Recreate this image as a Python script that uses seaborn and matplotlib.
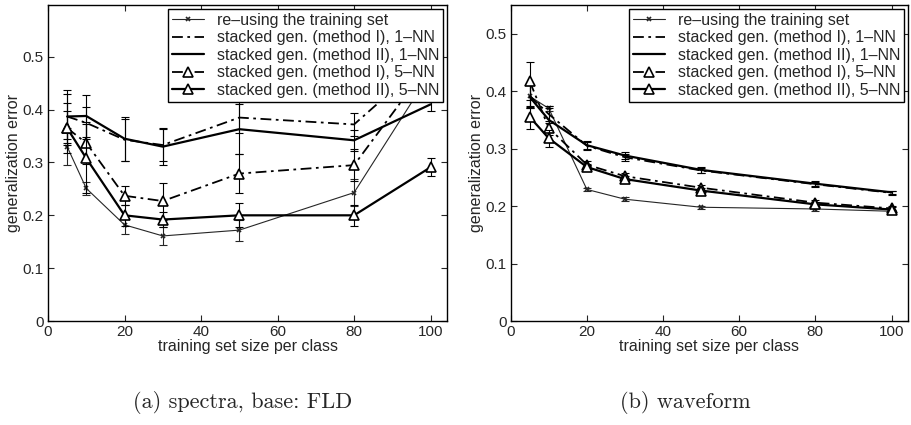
import numpy as np
import pandas as pd
import matplotlib
import matplotlib.pyplot as plt
import seaborn as sns
from matplotlib import font_manager

matplotlib.use('Agg')

# training set sizes
sizes = [5, 10, 20, 30, 50, 80, 100]

labels = [
    're–using the training set',
    'stacked gen. (method I), 1–NN',
    'stacked gen. (method II), 1–NN',
    'stacked gen. (method I), 5–NN',
    'stacked gen. (method II), 5–NN',
]

# (a) spectra, base: FLD
spec_reuse = [0.330, 0.251, 0.182, 0.161, 0.172, 0.243, 0.470]
spec_m1_1nn = [0.387, 0.375, 0.343, 0.333, 0.385, 0.372, 0.500]
spec_m2_1nn = [0.387, 0.388, 0.345, 0.330, 0.363, 0.342, 0.410]
spec_m1_5nn = [0.365, 0.337, 0.237, 0.227, 0.279, 0.295, 0.490]
spec_m2_5nn = [0.365, 0.308, 0.200, 0.192, 0.200, 0.200, 0.291]

spec_reuse_err = [0.035, 0.012, 0.017, 0.017, 0.020, 0.025, 0.020]
spec_m1_1nn_err = [0.043, 0.030, 0.040, 0.030, 0.030, 0.022, 0.020]
spec_m2_1nn_err = [0.050, 0.040, 0.042, 0.035, 0.047, 0.020, 0.012]
spec_m1_5nn_err = [0.048, 0.040, 0.018, 0.035, 0.037, 0.030, 0.020]
spec_m2_5nn_err = [0.032, 0.065, 0.020, 0.015, 0.023, 0.020, 0.017]

# (b) waveform
wave_reuse = [0.391, 0.370, 0.229, 0.212, 0.198, 0.195, 0.191]
wave_m1_1nn = [0.392, 0.360, 0.305, 0.285, 0.262, 0.238, 0.223]
wave_m2_1nn = [0.390, 0.350, 0.306, 0.288, 0.263, 0.239, 0.224]
wave_m1_5nn = [0.417, 0.336, 0.272, 0.252, 0.232, 0.206, 0.196]
wave_m2_5nn = [0.355, 0.318, 0.268, 0.247, 0.227, 0.203, 0.194]

wave_reuse_err = [0.020, 0.004, 0.003, 0.003, 0.003, 0.003, 0.003]
wave_m1_1nn_err = [0.020, 0.015, 0.006, 0.006, 0.005, 0.004, 0.003]
wave_m2_1nn_err = [0.020, 0.020, 0.008, 0.006, 0.005, 0.004, 0.003]
wave_m1_5nn_err = [0.033, 0.012, 0.006, 0.006, 0.005, 0.004, 0.004]
wave_m2_5nn_err = [0.020, 0.015, 0.006, 0.006, 0.005, 0.004, 0.004]

panels = [
    dict(values=[spec_reuse, spec_m1_1nn, spec_m2_1nn, spec_m1_5nn, spec_m2_5nn],
         errors=[spec_reuse_err, spec_m1_1nn_err, spec_m2_1nn_err, spec_m1_5nn_err, spec_m2_5nn_err],
         ylim=0.598, caption='(a) spectra, base: FLD', cap_x=0.266),
    dict(values=[wave_reuse, wave_m1_1nn, wave_m2_1nn, wave_m1_5nn, wave_m2_5nn],
         errors=[wave_reuse_err, wave_m1_1nn_err, wave_m2_1nn_err, wave_m1_5nn_err, wave_m2_5nn_err],
         ylim=0.55, caption='(b) waveform', cap_x=0.752),
]

# line styles per series
dashdot = (0, (6, 2.5, 1.5, 2.5))
styles = [
    dict(linestyle='-', linewidth=0.8, marker='x', markersize=3, color='0.15'),
    dict(linestyle=dashdot, linewidth=1.3, marker=None, color='k'),
    dict(linestyle='-', linewidth=1.6, marker=None, color='k'),
    dict(linestyle=dashdot, linewidth=1.3, marker='^', markersize=7, color='k'),
    dict(linestyle='-', linewidth=1.6, marker='^', markersize=7, color='k'),
]

sns.set_style('ticks')
names = {f.name for f in font_manager.fontManager.ttflist}
sans = 'Liberation Sans Narrow' if 'Liberation Sans Narrow' in names else 'Liberation Sans'
plt.rcParams['font.family'] = [sans, 'DejaVu Sans']

fig = plt.figure(figsize=(9.11, 4.25), dpi=100)
positions = [[0.0527, 0.2447, 0.438, 0.7435], [0.5606, 0.2447, 0.436, 0.7435]]

for pos, panel in zip(positions, panels):
    ax = fig.add_axes(pos)
    for lab, vals, errs, st in zip(labels, panel['values'], panel['errors'], styles):
        df = pd.DataFrame({'size': sizes, 'error': vals})
        ax.errorbar(df['size'], df['error'], yerr=errs, fmt='none',
                    ecolor=st['color'], elinewidth=0.8, capsize=3, capthick=0.8)
        sns.lineplot(data=df, x='size', y='error', ax=ax, label=lab,
                     color=st['color'], linestyle=st['linestyle'], linewidth=st['linewidth'],
                     marker=st['marker'], markersize=st.get('markersize', 0),
                     markerfacecolor='white', markeredgecolor=st['color'],
                     markeredgewidth=1.2, estimator=None, sort=False)
    ax.set_xlim(0, 104.3)
    ax.set_ylim(0, panel['ylim'])
    ax.set_xticks([0, 20, 40, 60, 80, 100])
    ax.set_yticks([0, 0.1, 0.2, 0.3, 0.4, 0.5])
    ax.set_yticklabels(['0', '0.1', '0.2', '0.3', '0.4', '0.5'])
    ax.tick_params(direction='in', top=True, right=True, length=4, width=0.8,
                   labelsize=11, pad=3)
    for sp in ax.spines.values():
        sp.set_visible(True)
        sp.set_linewidth(1.0)
        sp.set_color('k')
    ax.set_xlabel('training set size per class', fontsize=11.5, labelpad=0)
    ax.set_ylabel('generalization error', fontsize=11.5, labelpad=1)
    leg = ax.legend(loc='upper right', fontsize=11.5, frameon=True, fancybox=False,
                    framealpha=1, edgecolor='k', borderaxespad=0.25,
                    handlelength=2.0, labelspacing=0.15, borderpad=0.25)
    leg.get_frame().set_linewidth(1.0)
    leg.set_zorder(10)
    fig.text(panel['cap_x'], 0.052, panel['caption'], ha='center', va='center',
             fontsize=16, family='cmr10')

fig.savefig('out.png', dpi=100)
